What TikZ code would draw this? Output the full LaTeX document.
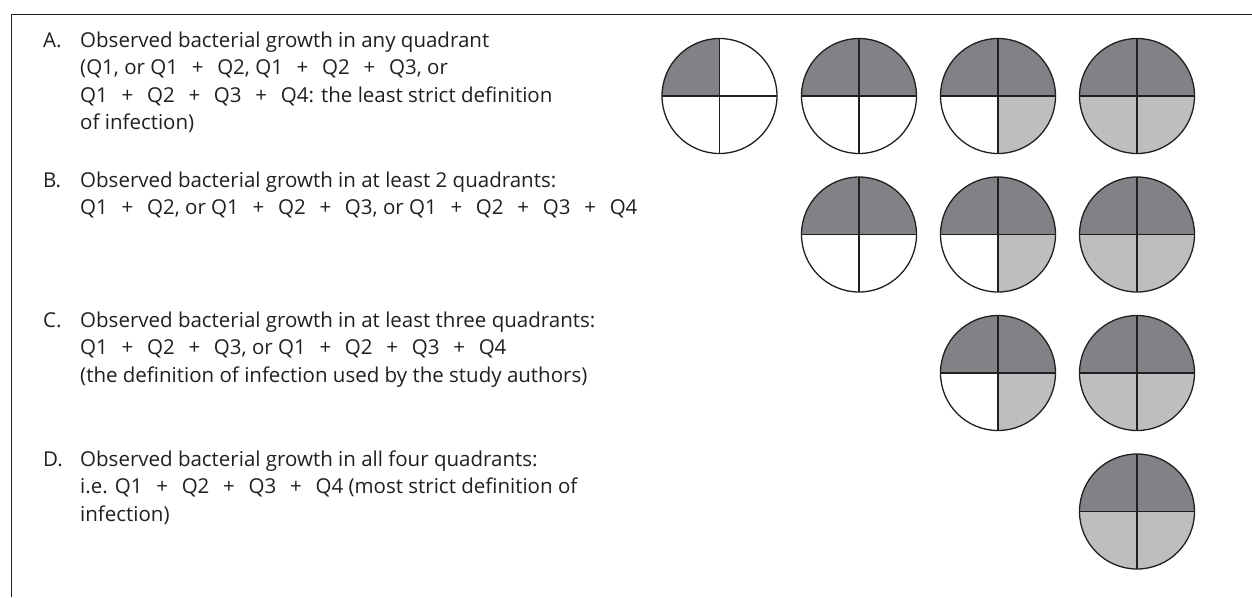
\documentclass[tikz,border=0pt]{standalone}
\usepackage{fontspec}
\setmainfont{Open Sans}
\definecolor{qdark}{HTML}{808285}
\definecolor{qlight}{HTML}{BCBEC0}
\definecolor{framec}{HTML}{231F20}
\newcommand\pl{\hspace{0.67em}+\hspace{0.67em}}
\tikzset{
  itemtext/.style={anchor=base west, align=left, inner sep=0pt, font=\fontsize{20.5}{27.5}\selectfont, text=framec},
  itemlabel/.style={anchor=base west, inner sep=0pt, font=\fontsize{20.5}{27.5}\selectfont, text=framec},
  qrim/.style={draw=framec, line width=1.3pt},
  qcross/.style={draw=framec, line width=1.6pt},
  frameline/.style={draw=framec, line width=1pt}
}
% \quadc{name}{x}{y}{Q1 top-left}{Q2 top-right}{Q3 bottom-right}{Q4 bottom-left}
\newcommand\quadc[7]{%
  \coordinate (#1) at (#2,#3);
  \begin{scope}
    \clip (#1) circle[radius=57.5];
    \fill[#4] (#1) rectangle ++(-60,-60);
    \fill[#5] (#1) rectangle ++(60,-60);
    \fill[#6] (#1) rectangle ++(60,60);
    \fill[#7] (#1) rectangle ++(-60,60);
  \end{scope}
  \draw[qcross] (#1) ++(-57.5,0) -- ++(115,0);
  \draw[qcross] (#1) ++(0,-57.5) -- ++(0,115);
  \draw[qrim] (#1) circle[radius=57.5];
}
\begin{document}
\begin{tikzpicture}[x=1pt,y=-1pt]
\useasboundingbox (0,0) rectangle (1252,597);
\fill[white] (0,0) rectangle (1252,597);
\coordinate (ftl) at (11.5,14);
\coordinate (ftr) at (1252,14);
\coordinate (fbl) at (11.5,597);
\draw[frameline] (ftr) -- (ftl) -- (fbl);

% texts (anchored at the baseline of the last line)
\node[itemlabel] (la) at (43,47) {A.};
\node[itemtext] (ta) at (80,129.5) {Observed bacterial growth in any quadrant\\(Q1, or Q1\pl Q2, Q1\pl Q2\pl Q3, or\\Q1\pl Q2\pl Q3\pl Q4: the least strict definition\\ of infection)};
\node[itemlabel] (lb) at (43,187) {B.};
\node[itemtext] (tb) at (80,214.5) {Observed bacterial growth in at least 2 quadrants:\\Q1\pl Q2, or Q1\pl Q2\pl Q3, or Q1\pl Q2\pl Q3\pl Q4};
\node[itemlabel] (lc) at (43,327) {C.};
\node[itemtext] (tc) at (80,382) {Observed bacterial growth in at least three quadrants:\\Q1\pl Q2\pl Q3, or Q1\pl Q2\pl Q3\pl Q4\\(the definition of infection used by the study authors)};
\node[itemlabel] (ld) at (43,466) {D.};
\node[itemtext] (td) at (80,521) {Observed bacterial growth in all four quadrants:\\i.e. Q1\pl Q2\pl Q3\pl Q4 (most strict definition of\\infection)};

% circles
\quadc{a1}{719.5}{96}{qdark}{white}{white}{white}
\quadc{a2}{859}{96}{qdark}{qdark}{white}{white}
\quadc{a3}{998}{96}{qdark}{qdark}{qlight}{white}
\quadc{a4}{1137}{96}{qdark}{qdark}{qlight}{qlight}
\quadc{b2}{859}{234.5}{qdark}{qdark}{white}{white}
\quadc{b3}{998}{234.5}{qdark}{qdark}{qlight}{white}
\quadc{b4}{1137}{234.5}{qdark}{qdark}{qlight}{qlight}
\quadc{c3}{998}{373}{qdark}{qdark}{qlight}{white}
\quadc{c4}{1137}{373}{qdark}{qdark}{qlight}{qlight}
\quadc{d4}{1137}{511.5}{qdark}{qdark}{qlight}{qlight}
\end{tikzpicture}
\end{document}
